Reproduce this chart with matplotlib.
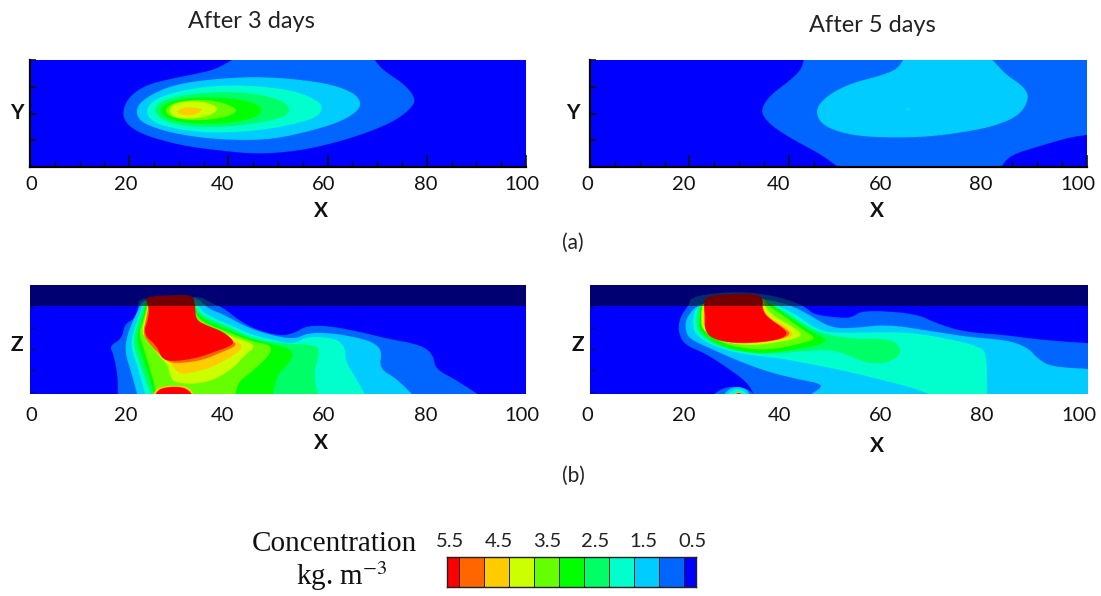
import numpy as np
import matplotlib
matplotlib.use("Agg")
import matplotlib.pyplot as plt
from matplotlib.transforms import ScaledTranslation

plt.rcParams['font.family'] = ['Lato', 'DejaVu Sans']
plt.rcParams['mathtext.fontset'] = 'stix'

# Concentration bands, low to high (upper limit of colourbar is 5.5, lower 0.5)
BAND_EDGES = [5.5, 5.25, 4.75, 4.25, 3.75, 3.25, 2.75, 2.25, 1.75, 1.25, 0.75, 0.5]
BAND_COLORS = ['#ff0000', '#ff6600', '#ffcc00', '#ccff00', '#66ff00', '#00ff00',
               '#00ff66', '#00ffcc', '#00ccff', '#0066ff', '#0000ff']
CBAR_LABELS = ['5.5', '4.5', '3.5', '2.5', '1.5', '0.5']
X_TICKS = [0, 20, 40, 60, 80, 100]

# Contour outlines (x, vertical % of domain). Keys: colour of the band enclosed.
A_0066ff = [(40.7,100),(37.7,92),(34.5,88),(29,83),(23.5,77),(20,66),(18.6,52),(19.3,41),(22,32),(26.4,25),(32,19),(39,15),(46,12),(54,15),(61,22),(68,32),(74,44),(77.5,58),(77.5,66),(75.3,78),(71,91),(69.5,100)]
A_00ccff = [(21.4,52),(22.1,60),(25,69),(29.2,77),(36.3,82),(45.5,84.5),(54,82),(61,77),(65.4,69),(66.8,60),(66,52),(62.5,42),(56,33),(49,26),(42,25),(35,27),(28.5,32),(24.3,38),(22,44)]
A_00ffcc = [(23.4,52),(24.3,60),(27,67),(32.8,73.6),(39.9,76.7),(47.7,75),(54,70.5),(58.3,61),(59,55),(58,47),(54,41),(47.7,35),(39.9,32),(32.8,33),(27,38),(24.3,44)]
A_00ff66 = [(25,52),(26,61),(30.6,67),(37.7,70.5),(44.8,69),(50.5,63),(52.6,55),(51.5,47),(46,41),(38.4,37),(31,38),(26.7,44)]
A_00ff00 = [(26,52),(27,59.5),(32,65),(39,65),(44.8,61),(47,54),(45.8,46.6),(40.6,41),(33.5,40),(27.8,44)]
A_66ff00 = [(27,52),(28.5,59.5),(32.8,63),(37.7,62),(42.3,54),(39.9,46.6),(34,43),(28.9,45.6)]
A_ccff00 = [(28,53),(29,59.6),(32.8,62),(36.3,59.6),(38.3,54),(35.6,46.6),(31.3,44.7),(28.9,46.6)]
A_ffcc00 = [(29.4,52.5),(31.3,56),(34.2,55),(34.8,52.8),(32.8,47.8),(30.3,48.8)]

B_0066ff = [(43,100),(42.5,91),(40,80),(36.5,68),(34.7,57),(34.6,49),(36.5,38.5),(40.7,26),(46.4,12),(49.9,0),(82.7,0),(84.5,11),(90.8,20),(96.5,27.7),(100,30),(100,100)]
B_00ccff = [(63,100),(61.9,92),(59,86),(52.7,78.5),(48.5,69),(46,58.5),(45.5,49),(47,38.5),(51.3,31),(57,27.7),(66.8,27.7),(74.6,32),(81.7,38.5),(86.6,49),(88.4,64.6),(87.3,75),(83.8,86),(82,95),(81,100)]
B_spot = [(63.6,53.5),(64.2,53.5),(64.2,54.5),(63.6,54.5)]

C_0066ff = [(90.2,0),(86,12.6),(81.7,23),(81.3,36),(78.9,45),(71.8,51),(67.5,56),(61,62),(56,63),(53.3,56),(50.5,53),(45.5,59),(42,68),(39,79),(36.3,84),(34.2,90),(22,89),(21.8,79),(21.4,70),(19,64),(18.6,51),(16,44),(16.8,37),(17.7,17),(17.7,0)]
C_00ccff = [(21.6,0),(20.4,20),(19.1,39),(19.6,54),(21,70),(22,79),(22.8,87),(33.5,90),(35.6,79),(39,73),(43.4,62),(47.7,55),(53.3,50),(56,56),(60.4,56),(64.7,53),(69,48),(71,40),(70.4,23.5),(73.9,14),(77,0)]
C_00ffcc = [(23.2,0),(21.8,23.5),(20.4,42),(20.6,54),(21.8,70),(22.5,79),(23.2,88),(33,88),(34.5,77),(36.3,71),(40.6,63),(44.8,54),(50.5,48),(53.3,46),(56,53),(61.8,51),(63.6,42),(63.6,30),(65.4,17),(67.5,0)]
C_00ff66 = [(24.3,0),(22.8,20),(21,42),(21,54),(22,70),(22.8,79),(23.5,88),(33,89),(33.8,76),(35.6,70),(39.9,62),(44.8,51),(50.5,46.5),(58,45),(58.3,36),(57.2,20),(58,0)]
C_00ff00 = [(25,0),(23.9,17),(21.8,45),(21.6,54),(22.7,70),(23.2,79),(23.5,88),(32.8,88),(33.6,74),(35.6,67),(39.9,59),(44.8,50),(48.4,46.5),(53.2,40.4),(52.6,30),(49.8,17.3),(49,0)]
C_66ff00 = [(25.5,0),(24.6,17),(22.5,48),(22,56),(23,70),(23.5,79),(23.7,88),(32.6,88),(33.3,73),(35.2,65),(39.9,57),(44.8,48),(48.7,45),(48.4,36),(44.8,20.7),(42,11),(41.4,0)]
C_ccff00 = [(27.8,26.5),(26.4,33),(23.9,48.7),(22.5,56),(23.2,70),(23.7,79),(23.9,87),(32.4,87),(33,71),(35.2,63.6),(39.9,54),(45.9,45),(43.4,36),(40.6,22),(35.6,9.6),(29.2,9.6),(28.2,17)]
C_ffcc00 = [(28.5,28),(26.4,34),(24.3,46.6),(22.8,55),(23.4,70),(23.8,79),(24,86),(32.2,86),(32.9,70),(35.2,62.6),(39.9,52),(43.4,44),(40.6,34),(36.3,23.5),(31.3,18),(29.6,20)]
C_ff6600 = [(27.8,29.6),(26,37),(24.3,45),(22.7,55),(23.5,70),(24.1,85),(32,85),(32.8,70),(35.6,61),(39.9,51),(42,45),(39,39),(34.9,31),(29.9,28)]
C_ff0000 = [(23.2,88),(24,79),(23.9,70),(22.8,55),(25.7,43.5),(26.5,32.7),(28.5,29.6),(33.5,32.7),(37.7,39.5),(40.2,43.5),(41.3,48),(39,57),(35.6,63),(33.5,68),(33.3,79),(33,90),(30.6,91),(25,90)]
C_low_ccff00 = [(24.8,0),(25.7,5.5),(27.8,7.7),(31,7.7),(32.4,4.3),(32.9,0)]
C_low_ff0000 = [(25.3,0),(26,4.3),(27.8,6.5),(30.6,6.5),(32,3.4),(32.6,0)]

D_0066ff = [(18,70),(17.7,57),(19,45),(23,37.6),(27.3,25),(31.5,11),(32.9,0),(100,0),(100,46.6),(90.6,49.6),(83.6,54),(75,57),(69.5,65),(65.3,74),(54.7,77),(52.6,70),(49.8,70),(44.9,73),(43.5,79),(41.3,84),(37,90),(30.8,94),(23.7,92),(20.2,88),(19.9,82)]
D_low_0066ff = [(25,0),(26.5,5),(28.7,7),(31.5,5),(32.9,0)]
D_00ccff = [(100,0),(100,23),(92.7,25),(90,32),(87.8,43),(83.6,49.6),(76.5,52),(69.5,57),(59.6,64),(53.3,60.5),(48.4,60.5),(43.5,74),(40,82),(34.3,88),(22.3,85),(19.2,70),(19.2,57),(20.2,50),(25,40),(30,30),(35.7,20.4),(41.3,14),(47.3,8.6),(44.5,0)]
D_00ffcc = [(79.7,0),(79.7,33),(78.7,43.5),(69.5,53),(62.5,57),(51.9,56),(46.3,57),(41.3,73),(37.8,81),(34.3,87),(21.6,82),(20.6,70),(20.9,54),(25.8,42),(31.5,36),(37.8,33),(44.9,27),(51.9,20.4),(58.9,12.6),(65.3,5),(68,0)]
D_00ff66 = [(62.5,40),(61.4,48),(57.9,51),(55.4,50),(48.4,53),(44.2,60.5),(40.6,71),(37,81),(34.3,87),(22,85),(21.3,70),(21.6,56),(25.8,43),(31.5,38),(37.8,37),(44.2,40),(49.8,40),(55.4,28),(59.6,28.4),(61.8,34)]
D_00ff00 = [(47.7,50),(44.9,56),(41.3,67),(37.8,78),(35,87),(22.3,85),(22,70),(22,57),(25.8,44.4),(31.5,38),(35.7,37),(41.3,41),(46.3,45)]
D_66ff00 = [(45.6,51),(42.7,59),(38.5,73),(35.7,81),(34.9,90),(22.7,85),(22.2,70),(22.5,59),(26.5,46),(32.2,41),(37,41),(42.7,46.6)]
D_ccff00 = [(43.1,53),(40.6,62),(37,71),(35,80.5),(34.9,90),(22.7,88),(22.3,70),(22.7,57),(27.3,46.6),(32.9,44.4),(38.5,48)]
D_ffcc00 = [(41.3,54),(38.9,63.6),(35.7,71),(34.6,80.5),(34.6,90),(23,90),(22.7,70),(22.9,59),(27.3,46.6),(32.9,46),(38.5,49.7)]
D_ff6600 = [(40.6,55),(38.5,62),(35.5,71),(34.6,80),(34.6,91),(23,91),(22.9,70),(23,59),(27.5,46.8),(32.9,46.5),(38,49.7)]
D_ff0000 = [(23,90),(28.3,92),(33.6,92),(34.8,87),(34.5,79),(35.4,71),(39.2,59),(39.6,54),(37.8,49.7),(32.9,47),(28,47),(24.4,51),(23,59),(23.2,70),(22.9,79)]
D_low_00ccff = [(27,0),(28,5),(29.7,7),(31.5,4.3),(32,0)]
D_low_00ffcc = [(27.6,0),(28.7,3.4),(29.7,4.6),(30.9,3),(31.5,0)]
D_low_ffcc00 = [(29,0),(29.7,2),(30.6,0)]
D_low_ff0000 = [(29.2,0),(29.9,1.2),(30.5,0)]

PANEL_A = [('#0066ff', A_0066ff), ('#00ccff', A_00ccff), ('#00ffcc', A_00ffcc), ('#00ff66', A_00ff66),
           ('#00ff00', A_00ff00), ('#66ff00', A_66ff00), ('#ccff00', A_ccff00), ('#ffcc00', A_ffcc00)]
PANEL_B = [('#0066ff', B_0066ff), ('#00ccff', B_00ccff), ('#00ffcc', B_spot)]
PANEL_C = [('#0066ff', C_0066ff), ('#00ccff', C_00ccff), ('#00ffcc', C_00ffcc), ('#00ff66', C_00ff66),
           ('#00ff00', C_00ff00), ('#66ff00', C_66ff00), ('#ccff00', C_ccff00), ('#ffcc00', C_ffcc00),
           ('#ff6600', C_ff6600), ('#ff0000', C_ff0000), ('#ffcc00', C_low_ccff00), ('#ff0000', C_low_ff0000)]
PANEL_D = [('#0066ff', D_0066ff), ('#0066ff', D_low_0066ff), ('#00ccff', D_00ccff), ('#00ffcc', D_00ffcc),
           ('#00ff66', D_00ff66), ('#00ff00', D_00ff00), ('#66ff00', D_66ff00), ('#ccff00', D_ccff00),
           ('#ffcc00', D_ffcc00), ('#ff6600', D_ff6600), ('#ff0000', D_ff0000), ('#00ccff', D_low_00ccff),
           ('#00ffcc', D_low_00ffcc), ('#ffcc00', D_low_ffcc00), ('#ff0000', D_low_ff0000)]

# Tick-label nudges seen in the source image (pixels)
LEFT_LABEL_NUDGE = [1.6, -3, -6, -3.5, -1.5, -4]
RIGHT_LABEL_NUDGE = [-2.5, -6, -10, -8, -7, -9]

W, H = 1101, 596
fig = plt.figure(figsize=(W / 100, H / 100), dpi=100)


def axes_px(l, t, r, b):
    return fig.add_axes([l / W, 1 - b / H, (r - l) / W, (b - t) / H])


def ftext(x, y, s, **kw):
    kw.setdefault('ha', 'center')
    kw.setdefault('va', 'center')
    return fig.text(x / W, 1 - y / H, s, **kw)


def round_outline(pts, passes=2):
    """Round polygon corners for drawing, keeping vertices on the domain border."""
    p = np.array(pts, dtype=float)
    for _ in range(passes):
        out = []
        n = len(p)
        for i in range(n):
            a, b, c = p[i - 1], p[i], p[(i + 1) % n]
            if b[0] >= 100 or b[1] <= 0 or b[1] >= 100:
                out.append(b)
            else:
                out.append(b + 0.25 * (a - b))
                out.append(b + 0.25 * (c - b))
        p = np.array(out)
    return p


def draw(ax, bands):
    ax.set_xlim(0, 100)
    ax.set_ylim(0, 100)
    ax.set_facecolor('#0000ff')
    for color, pts in bands:
        xy = round_outline(pts)
        ax.fill(xy[:, 0], xy[:, 1], color=color, lw=0, zorder=2)
    for s in ax.spines.values():
        s.set_visible(False)


def nudge_labels(ax, nudges):
    for lab, dx in zip(ax.get_xticklabels(), nudges):
        lab.set_transform(lab.get_transform() + ScaledTranslation(dx / 100, 0, fig.dpi_scale_trans))


def top_panel(l, r, bands, nudges):
    ax = axes_px(l, 60, r, 167)
    draw(ax, bands)
    for side in ('left', 'bottom'):
        ax.spines[side].set_visible(True)
        ax.spines[side].set_linewidth(1.6)
        ax.spines[side].set_zorder(5)
    ax.set_xticks(X_TICKS)
    ax.set_xticks(np.arange(0, 101, 5), minor=True)
    ax.tick_params(axis='x', which='major', direction='in', length=9, width=1.2, labelsize=14.5,
                   pad=6.5, colors='#111111')
    ax.tick_params(axis='x', which='minor', direction='in', length=4, width=0.9, color='#111111')
    ax.set_yticks([25, 50, 75, 100])
    ax.set_yticklabels([])
    ax.tick_params(axis='y', which='major', direction='in', length=4, width=1.2, color='#111111')
    for t in ax.get_xticklines() + ax.get_yticklines() + ax.get_xticklines(minor=True):
        t.set_zorder(6)
    nudge_labels(ax, nudges)
    return ax


def low_panel(l, r, bands, nudges):
    ax = axes_px(l, 285, r, 394)
    draw(ax, bands)
    ax.axhspan(81, 100, color='black', alpha=0.55, lw=0, zorder=3)
    ax.set_xticks(X_TICKS)
    ax.tick_params(axis='x', length=0, labelsize=14.5, pad=9.5, colors='#111111')
    ax.set_yticks([2, 22, 41, 61, 80])
    ax.set_yticklabels([])
    ax.tick_params(axis='y', direction='in', length=3, width=1.0, color='#111133')
    nudge_labels(ax, nudges)
    return ax


top_panel(30, 526, PANEL_A, LEFT_LABEL_NUDGE)
top_panel(590, 1087, PANEL_B, RIGHT_LABEL_NUDGE)
low_panel(30, 526, PANEL_C, LEFT_LABEL_NUDGE)
low_panel(590, 1088, PANEL_D, RIGHT_LABEL_NUDGE)

ftext(251, 22, 'After 3 days', fontsize=17, color='#222222')
ftext(872, 25, 'After 5 days', fontsize=17, color='#222222')
for x, y, s in [(321, 211, 'X'), (877, 211, 'X'), (321, 443, 'X'), (877, 446, 'X'),
                (17, 113, 'Y'), (573, 113, 'Y'), (17, 345, 'Z'), (578, 345, 'Z')]:
    ftext(x, y, s, fontsize=15, fontweight='bold', color='#111111')
ftext(573, 243, '(a)', fontsize=15, color='#222222')
ftext(573, 476, '(b)', fontsize=15, color='#222222')

# Colourbar
cax = axes_px(447, 557, 696, 587)
edges = np.array(BAND_EDGES)
cax.pcolormesh(edges, [0, 1], np.arange(len(BAND_COLORS)).reshape(1, -1),
               cmap=matplotlib.colors.ListedColormap(BAND_COLORS),
               edgecolors='#222222', linewidth=0.7)
cax.set_xlim(5.5, 0.5)
cax.set_ylim(0, 1)
cax.set_yticks([])
cax.xaxis.tick_top()
tick_pos = np.linspace(5.44, 0.58, len(CBAR_LABELS))
cax.set_xticks(tick_pos)
cax.set_xticklabels(CBAR_LABELS)
cax.tick_params(axis='x', length=0, labelsize=14.5, pad=5, colors='#222222')
for s in cax.spines.values():
    s.set_color('#222222')
    s.set_linewidth(1.0)

ftext(417, 544, 'Concentration', ha='right', family=['Liberation Serif'], fontsize=21, color='#111111')
ftext(342, 576, r'kg. m$^{-3}$', family=['Liberation Serif'], fontsize=21, color='#111111')

fig.savefig('out.png', dpi=100)
